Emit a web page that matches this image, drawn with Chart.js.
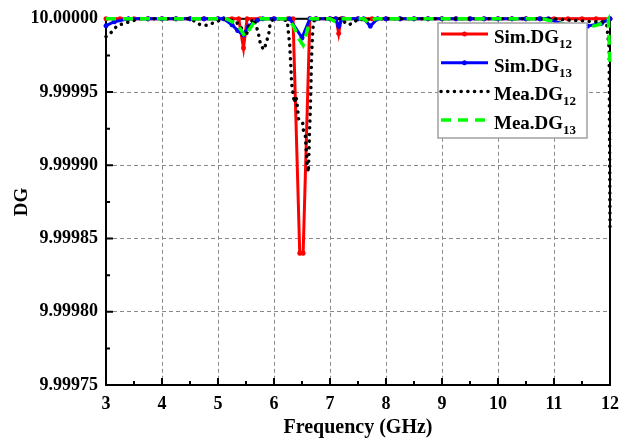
<!DOCTYPE html>
<html><head><meta charset="utf-8">
<script src="https://cdn.jsdelivr.net/npm/chart.js@4/dist/chart.umd.min.js"></script>
<style>html,body{margin:0;padding:0;background:#fff}</style>
</head><body>
<canvas id="c" width="630" height="440"></canvas>
<script>
// ---- data ----
const xTicks = [3, 4, 5, 6, 7, 8, 9, 10, 11, 12];
const yTicks = [9.99975, 9.99980, 9.99985, 9.99990, 9.99995, 10.00000];
const xMinorTicks = [3.5, 4.5, 5.5, 6.5, 7.5, 8.5, 9.5, 10.5, 11.5];
const yMinorTicks = [9.999775, 9.999825, 9.999875, 9.999925, 9.999975];

const legendMain = ['Sim.DG', 'Sim.DG', 'Mea.DG', 'Mea.DG'];
const legendSub = ['12', '13', '12', '13'];

const simDG12Freq = [3.0, 3.25, 3.5, 3.75, 4.0, 4.25, 4.5, 4.75, 5.0, 5.25, 5.37, 5.455, 5.52, 5.75, 6.0, 6.25, 6.34, 6.46, 6.52, 6.64, 6.75, 7.0, 7.11, 7.155, 7.2, 7.25, 7.5, 7.75, 8.0, 8.25, 8.5, 8.75, 9.0, 9.25, 9.5, 9.75, 10.0, 10.25, 10.5, 10.75, 11.0, 11.25, 11.5, 11.75, 12.0];
const simDG12 = [10.0, 10.0, 10.0, 10.0, 10.0, 10.0, 10.0, 10.0, 10.0, 10.0, 10.0, 9.99998, 10.0, 10.0, 10.0, 10.0, 10.0, 9.99984, 9.99984, 10.0, 10.0, 10.0, 10.0, 9.99999, 10.0, 10.0, 10.0, 10.0, 10.0, 10.0, 10.0, 10.0, 10.0, 10.0, 10.0, 10.0, 10.0, 10.0, 10.0, 10.0, 10.0, 10.0, 10.0, 10.0, 10.0];

const simDG13Freq = [3.0, 3.15, 3.4, 3.75, 4.0, 4.25, 4.5, 4.75, 5.0, 5.1, 5.25, 5.35, 5.45, 5.55, 5.7, 5.8, 6.0, 6.28, 6.5, 6.64, 6.75, 7.0, 7.1, 7.155, 7.22, 7.5, 7.6, 7.72, 7.85, 8.0, 8.25, 8.5, 8.75, 9.0, 9.25, 9.5, 9.75, 10.0, 10.25, 10.5, 10.75, 10.9, 11.1, 11.35, 11.6, 11.85, 12.0];
const simDG13 = [9.9999953, 9.999998, 10.0, 10.0, 10.0, 10.0, 10.0, 10.0, 10.0, 10.0, 9.999996, 9.999992, 9.999989, 9.999995, 9.999999, 10.0, 10.0, 10.0, 9.999987, 10.0, 10.0, 10.0, 10.0, 9.999995, 10.0, 10.0, 10.0, 9.999995, 10.0, 10.0, 10.0, 10.0, 10.0, 10.0, 10.0, 10.0, 10.0, 10.0, 10.0, 10.0, 10.0, 10.0, 9.999997, 9.999995, 9.999995, 9.999997, 10.0];

const meaDG12Freq = [3.0, 3.1, 3.2, 3.33, 3.47, 3.6, 4.0, 4.5, 4.6, 4.68, 4.81, 4.95, 5.1, 5.3, 5.4, 5.5, 5.56, 5.64, 5.72, 5.74, 5.77, 5.83, 5.86, 5.9, 5.93, 5.97, 6.1, 6.238, 6.262, 6.28, 6.292, 6.304, 6.315, 6.34, 6.363, 6.393, 6.411, 6.44, 6.47, 6.512, 6.53, 6.56, 6.59, 6.614, 6.637, 6.649, 6.658, 6.667, 6.676, 6.694, 6.721, 7.0, 7.2, 7.31, 7.4, 7.5, 7.63, 7.75, 8.0, 9.0, 10.0, 11.0, 11.3, 11.5, 11.7, 11.9, 11.94, 11.985, 12.0];
const meaDG12 = [9.9999878, 9.999991, 9.9999953, 9.999997, 9.9999986, 10.0, 10.0, 10.0, 9.999998, 9.999996, 9.9999955, 9.9999978, 10.0, 9.9999986, 9.999995, 9.9999878, 9.9999966, 10.0, 9.9999905, 9.9999858, 9.9999811, 9.999979, 9.9999845, 9.9999878, 9.9999966, 9.9999993, 10.0, 9.9999986, 9.9999887, 9.9999831, 9.9999741, 9.9999651, 9.9999561, 9.9999493, 9.9999426, 9.9999471, 9.9999426, 9.9999313, 9.9999302, 9.9999291, 9.9999223, 9.9999201, 9.999902, 9.9998953, 9.9999257, 9.9999392, 9.9999527, 9.9999676, 9.9999797, 9.9999932, 10.0, 10.0, 10.0, 9.999996, 9.9999966, 10.0, 9.999999, 10.0, 10.0, 10.0, 10.0, 10.0, 9.999999, 9.9999986, 9.999998, 9.999998, 9.9999966, 9.99998, 9.999855];

const meaDG13Freq = [3.0, 4.0, 5.0, 5.15, 5.3, 5.4, 5.48, 5.55, 5.65, 5.75, 6.0, 6.25, 6.35, 6.45, 6.52, 6.58, 6.65, 6.8, 7.0, 7.1, 7.2, 7.6, 7.7, 7.8, 8.0, 9.0, 10.0, 10.8, 11.0, 11.2, 11.4, 11.6, 11.8, 11.95, 11.97, 12.0];
const meaDG13 = [10.0, 10.0, 10.0, 10.0, 9.999997, 9.999993, 9.999988, 9.999992, 9.999998, 10.0, 10.0, 10.0, 9.999995, 9.999986, 9.999982, 9.99999, 10.0, 10.0, 10.0, 9.999998, 10.0, 10.0, 9.999997, 10.0, 10.0, 10.0, 10.0, 10.0, 9.999998, 9.999996, 9.999994, 9.999994, 9.999996, 9.999999, 10.0, 9.999966];

// ---- chart ----
const pair = (xs, ys) => xs.map((x, i) => ({ x: x, y: ys[i] }));
const FONT = 'Liberation Serif';

const framePlugin = {
  id: 'frame',
  beforeDatasetsDraw(chart) {
    const { ctx, chartArea: a, scales } = chart;
    ctx.save();
    ctx.strokeStyle = '#000';
    ctx.lineWidth = 2;
    ctx.strokeRect(a.left, a.top, a.right - a.left, a.bottom - a.top);
    ctx.beginPath();
    xTicks.forEach(v => { const p = scales.x.getPixelForValue(v); ctx.moveTo(p, a.bottom); ctx.lineTo(p, a.bottom - 7); });
    xMinorTicks.forEach(v => { const p = scales.x.getPixelForValue(v); ctx.moveTo(p, a.bottom); ctx.lineTo(p, a.bottom - 4); });
    yTicks.forEach(v => { const p = scales.y.getPixelForValue(v); ctx.moveTo(a.left, p); ctx.lineTo(a.left + 7, p); });
    yMinorTicks.forEach(v => { const p = scales.y.getPixelForValue(v); ctx.moveTo(a.left, p); ctx.lineTo(a.left + 4, p); });
    ctx.stroke();
    ctx.restore();
  }
};

const legendPlugin = {
  id: 'customLegend',
  afterDatasetsDraw(chart) {
    const { ctx } = chart;
    const bx = 438, by = 23, bw = 149, bh = 115;
    ctx.save();
    ctx.fillStyle = '#fff';
    ctx.fillRect(bx, by, bw, bh);
    ctx.strokeStyle = '#a0a0a0';
    ctx.lineWidth = 1.5;
    ctx.strokeRect(bx, by, bw, bh);
    chart.data.datasets.forEach((ds, i) => {
      const y = 34 + i * 28.7;
      ctx.save();
      ctx.strokeStyle = ds.borderColor;
      ctx.lineWidth = ds.borderWidth;
      ctx.lineCap = ds.borderCapStyle || 'butt';
      ctx.setLineDash(ds.borderDash || []);
      ctx.beginPath();
      ctx.moveTo(441, y);
      ctx.lineTo(488, y);
      ctx.stroke();
      ctx.restore();
      if (ds.pointRadius > 0) {
        ctx.save();
        ctx.strokeStyle = ds.borderColor; ctx.fillStyle = ds.borderColor; ctx.lineWidth = ds.pointBorderWidth;
        Chart.helpers.drawPoint(ctx, { pointStyle: ds.pointStyle, radius: ds.pointRadius, borderWidth: ds.pointBorderWidth, rotation: 0 }, 464.5, y);
        ctx.restore();
      }
      ctx.fillStyle = '#000';
      ctx.textBaseline = 'alphabetic';
      ctx.textAlign = 'left';
      ctx.font = 'bold 19px "' + FONT + '"';
      ctx.fillText(legendMain[i], 494, y + 9);
      const w = ctx.measureText(legendMain[i]).width;
      ctx.font = 'bold 13px "' + FONT + '"';
      ctx.fillText(legendSub[i], 494 + w, y + 14);
    });
    ctx.restore();
  }
};

new Chart(document.getElementById('c'), {
  type: 'line',
  data: {
    datasets: [
      { label: 'Sim.DG12', data: pair(simDG12Freq, simDG12), borderColor: '#ff0000', backgroundColor: '#ff0000',
        borderWidth: 3, pointStyle: 'star', pointRadius: 2.5, pointBorderWidth: 1.5, pointBorderColor: '#ff0000',
        fill: false, tension: 0, order: 4, clip: 8 },
      { label: 'Sim.DG13', data: pair(simDG13Freq, simDG13), borderColor: '#0000ff', backgroundColor: '#0000ff',
        borderWidth: 3, pointStyle: 'star', pointRadius: 2.5, pointBorderWidth: 1.5, pointBorderColor: '#0000ff',
        fill: false, tension: 0, order: 3, clip: 8 },
      { label: 'Mea.DG12', data: pair(meaDG12Freq, meaDG12), borderColor: '#000000', backgroundColor: '#000000',
        borderWidth: 3.5, borderDash: [0.1, 6.6], borderCapStyle: 'round', pointRadius: 0,
        fill: false, tension: 0, order: 2, clip: 8 },
      { label: 'Mea.DG13', data: pair(meaDG13Freq, meaDG13), borderColor: '#00ff00', backgroundColor: '#00ff00',
        borderWidth: 3.5, borderDash: [10, 7], pointRadius: 0,
        fill: false, tension: 0, order: 1, clip: 8 }
    ]
  },
  options: {
    responsive: false,
    animation: false,
    devicePixelRatio: 1,
    layout: { padding: { top: 15, right: 20, left: 0, bottom: 0 } },
    plugins: { legend: { display: false }, tooltip: { enabled: false } },
    scales: {
      x: {
        type: 'linear', min: 3, max: 12,
        afterBuildTicks: s => { s.ticks = xTicks.map(v => ({ value: v })); },
        afterFit: s => { s.height = 55; },
        ticks: { color: '#000', padding: 9, maxRotation: 0, font: { family: FONT, weight: 'bold', size: 18 } },
        grid: { color: '#8a8a8a', lineWidth: 1, drawTicks: false },
        border: { display: false, dash: [4, 3] },
        title: { display: true, text: 'Frequency (GHz)', color: '#000', padding: { top: 0, bottom: 0 },
                 font: { family: FONT, weight: 'bold', size: 20 } }
      },
      y: {
        type: 'linear', min: 9.99975, max: 10.0,
        afterBuildTicks: s => { s.ticks = yTicks.map(v => ({ value: v })); },
        afterFit: s => { s.width = 106; },
        ticks: { color: '#000', padding: 8, callback: v => Number(v).toFixed(5),
                 font: { family: FONT, weight: 'bold', size: 18 } },
        grid: { color: '#8a8a8a', lineWidth: 1, drawTicks: false },
        border: { display: false, dash: [4, 3] },
        title: { display: true, text: 'DG', color: '#000', padding: { top: 11, bottom: 0 },
                 font: { family: FONT, weight: 'bold', size: 19 } }
      }
    }
  },
  plugins: [framePlugin, legendPlugin]
});
</script>
</body></html>
